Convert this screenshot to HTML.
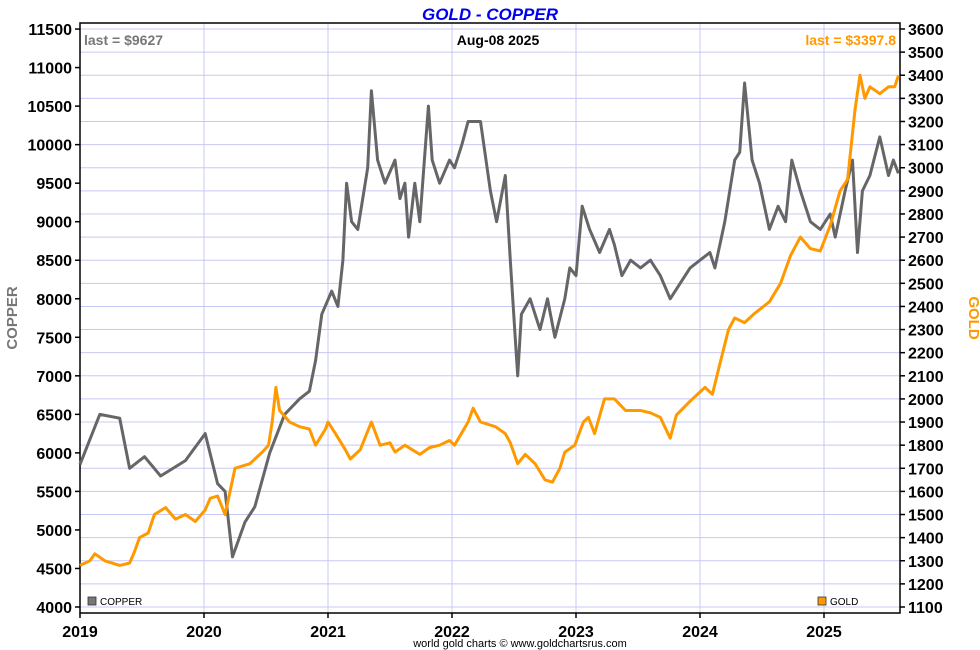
<!DOCTYPE html>
<html><head><meta charset="utf-8"><style>
body{margin:0;background:#fff;}
svg{display:block;font-family:"Liberation Sans",sans-serif;}
</style></head><body>
<svg id="chart" width="980" height="650">
<text x="490" y="20" text-anchor="middle" font-size="17" font-weight="bold" font-style="italic" fill="#0000ee">GOLD - COPPER</text>
<g id="grid"></g>
<rect x="80" y="23" width="820" height="590" fill="none" stroke="#000" stroke-width="1.5"/>
<g id="axes"></g>
<g id="series"></g>
<text x="84" y="45" font-size="14" font-weight="bold" fill="#777">last = $9627</text>
<text x="498" y="45" text-anchor="middle" font-size="14" font-weight="bold" fill="#000">Aug-08  2025</text>
<text x="896" y="45" text-anchor="end" font-size="14" font-weight="bold" fill="#f90">last = $3397.8</text>
<text transform="translate(17,318) rotate(-90)" text-anchor="middle" font-size="15" font-weight="bold" fill="#777">COPPER</text>
<text transform="translate(969,318) rotate(90)" text-anchor="middle" font-size="15" font-weight="bold" fill="#f90">GOLD</text>
<g><rect x="88" y="597" width="8" height="8" fill="#777" stroke="#333" stroke-width="0.8"/><text x="100" y="605" font-size="10" fill="#000">COPPER</text></g>
<g><rect x="818" y="597" width="8" height="8" fill="#f90" stroke="#333" stroke-width="0.8"/><text x="830" y="605" font-size="10" fill="#000">GOLD</text></g>
<text x="520" y="647" text-anchor="middle" font-size="11" fill="#000">world gold charts © www.goldchartsrus.com</text>
</svg>
<script>
const years=[2019,2020,2021,2022,2023,2024,2025];
const copperTicks=[4000,4500,5000,5500,6000,6500,7000,7500,8000,8500,9000,9500,10000,10500,11000,11500];
const goldTicks=[1100,1200,1300,1400,1500,1600,1700,1800,1900,2000,2100,2200,2300,2400,2500,2600,2700,2800,2900,3000,3100,3200,3300,3400,3500,3600];
const copperT=[2019.00,2019.16,2019.32,2019.40,2019.52,2019.65,2019.85,2020.01,2020.11,2020.17,2020.23,2020.33,2020.41,2020.53,2020.65,2020.77,2020.85,2020.90,2020.95,2021.03,2021.08,2021.12,2021.15,2021.19,2021.24,2021.32,2021.35,2021.40,2021.46,2021.54,2021.58,2021.62,2021.65,2021.70,2021.74,2021.81,2021.84,2021.90,2021.98,2022.02,2022.08,2022.13,2022.23,2022.31,2022.36,2022.43,2022.47,2022.51,2022.53,2022.56,2022.63,2022.71,2022.77,2022.83,2022.91,2022.95,2023.00,2023.05,2023.11,2023.19,2023.27,2023.31,2023.37,2023.44,2023.52,2023.60,2023.68,2023.76,2023.80,2023.92,2024.00,2024.08,2024.12,2024.20,2024.28,2024.32,2024.36,2024.42,2024.48,2024.56,2024.63,2024.69,2024.74,2024.81,2024.89,2024.97,2025.05,2025.09,2025.17,2025.23,2025.27,2025.31,2025.37,2025.45,2025.52,2025.56,2025.60];
const copperV=[5850,6500,6450,5800,5950,5700,5900,6250,5600,5500,4650,5100,5300,6000,6500,6700,6800,7200,7800,8100,7900,8500,9500,9000,8900,9700,10700,9800,9500,9800,9300,9500,8800,9500,9000,10500,9800,9500,9800,9700,10000,10300,10300,9400,9000,9600,8500,7500,7000,7800,8000,7600,8000,7500,8000,8400,8300,9200,8900,8600,8900,8700,8300,8500,8400,8500,8300,8000,8100,8400,8500,8600,8400,9000,9800,9900,10800,9800,9500,8900,9200,9000,9800,9400,9000,8900,9100,8800,9400,9800,8600,9400,9600,10100,9600,9800,9627];
const goldT=[2019.00,2019.08,2019.12,2019.20,2019.32,2019.40,2019.44,2019.48,2019.55,2019.60,2019.69,2019.77,2019.85,2019.93,2020.01,2020.05,2020.11,2020.17,2020.25,2020.37,2020.47,2020.52,2020.55,2020.58,2020.61,2020.69,2020.77,2020.85,2020.90,2020.98,2021.00,2021.06,2021.14,2021.18,2021.26,2021.35,2021.42,2021.50,2021.54,2021.62,2021.74,2021.82,2021.90,2021.98,2022.02,2022.13,2022.17,2022.23,2022.35,2022.43,2022.47,2022.53,2022.59,2022.67,2022.75,2022.81,2022.87,2022.91,2022.99,2023.06,2023.10,2023.15,2023.23,2023.31,2023.40,2023.52,2023.60,2023.68,2023.76,2023.81,2023.92,2024.00,2024.04,2024.10,2024.16,2024.23,2024.28,2024.36,2024.44,2024.56,2024.65,2024.73,2024.81,2024.89,2024.97,2025.05,2025.13,2025.19,2025.25,2025.29,2025.33,2025.37,2025.45,2025.52,2025.57,2025.60];
const goldV=[1280,1300,1330,1300,1280,1290,1340,1400,1420,1500,1530,1480,1500,1470,1520,1570,1580,1500,1700,1720,1770,1800,1900,2050,1950,1900,1880,1870,1800,1870,1900,1850,1780,1740,1780,1900,1800,1810,1770,1800,1760,1790,1800,1820,1800,1900,1960,1900,1880,1850,1810,1720,1760,1720,1650,1640,1700,1770,1800,1900,1920,1850,2000,2000,1950,1950,1940,1920,1830,1930,1990,2030,2050,2020,2150,2300,2350,2330,2370,2420,2500,2620,2700,2650,2640,2750,2900,2950,3250,3400,3300,3350,3320,3350,3350,3397.8];

const NS="http://www.w3.org/2000/svg";
const L=80,R=900,T=23,B=613;
const xS=t=>L+(t-2019)*124;
const yC=v=>607-(v-4000)/500*38.53;
const yG=v=>607-(v-1100)/100*23.12;
function mk(tag,attrs,parent){const e=document.createElementNS(NS,tag);for(const k in attrs)e.setAttribute(k,attrs[k]);parent.appendChild(e);return e;}
const grid=document.getElementById('grid'),axes=document.getElementById('axes'),series=document.getElementById('series');
goldTicks.forEach(v=>{
  const y=yG(v);
  const ln=mk('line',{x1:L,x2:R,y1:y,y2:y,stroke:'#c8c8f4','stroke-width':1},grid);
  
  
  mk('line',{x1:R,x2:R+5,y1:y,y2:y,stroke:'#000','stroke-width':1.5},axes);
  const tx=mk('text',{x:R+8,y:y+6,'font-size':16,'font-weight':'bold',fill:'#000'},axes);
  tx.textContent=v;
  
  
});
years.forEach(yr=>{
  const x=xS(yr);
  const ln=mk('line',{x1:x,x2:x,y1:T,y2:B,stroke:'#c8c8f4','stroke-width':1},grid);
  
  
  mk('line',{x1:x,x2:x,y1:B,y2:B+5,stroke:'#000','stroke-width':1.5},axes);
  const tx=mk('text',{x:x,y:637,'text-anchor':'middle','font-size':16,'font-weight':'bold',fill:'#000'},axes);
  tx.textContent=yr;
  
  
});
copperTicks.forEach(v=>{
  const y=yC(v);
  mk('line',{x1:L-5,x2:L,y1:y,y2:y,stroke:'#000','stroke-width':1.5},axes);
  const tx=mk('text',{x:L-8,y:y+6,'text-anchor':'end','font-size':16,'font-weight':'bold',fill:'#000'},axes);
  tx.textContent=v;
  
  
});
const cp=mk('polyline',{points:copperT.map((t,i)=>xS(t).toFixed(1)+','+yC(copperV[i]).toFixed(1)).join(' '),fill:'none',stroke:'#666','stroke-width':3,'stroke-linejoin':'round'},series);


const gp=mk('polyline',{points:goldT.map((t,i)=>xS(t).toFixed(1)+','+yG(goldV[i]).toFixed(1)).join(' '),fill:'none',stroke:'#ff9900','stroke-width':3,'stroke-linejoin':'round'},series);


</script>
</body></html>
